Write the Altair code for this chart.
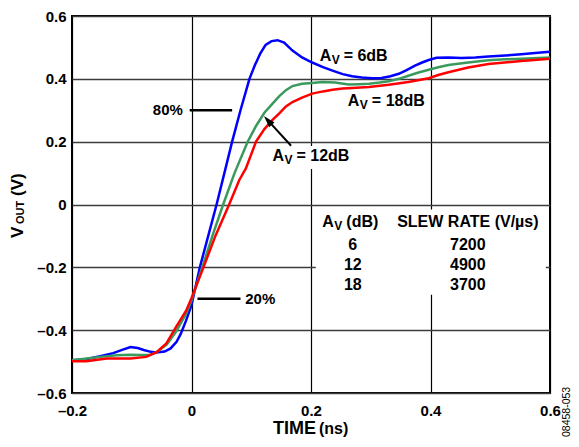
import altair as alt
import pandas as pd

# ---------------- data ----------------
t_6 = [-0.2, -0.175, -0.153, -0.131, -0.115, -0.102, -0.09, -0.08, -0.068, -0.059, -0.045, -0.035,
       -0.025, -0.018, -0.009, 0.0, 0.007, 0.014, 0.028, 0.042, 0.055, 0.068, 0.082, 0.097, 0.106,
       0.115, 0.124, 0.134, 0.144, 0.155, 0.169, 0.185, 0.202, 0.22, 0.236, 0.253, 0.269, 0.285,
       0.302, 0.318, 0.333, 0.347, 0.36, 0.374, 0.386, 0.397, 0.41, 0.43, 0.452, 0.475, 0.497,
       0.525, 0.552, 0.575, 0.6]
v_6 = [-0.496, -0.492, -0.483, -0.473, -0.462, -0.454, -0.457, -0.463, -0.469, -0.471, -0.468, -0.458,
       -0.437, -0.412, -0.369, -0.32, -0.26, -0.2, -0.1, 0.0, 0.1, 0.2, 0.3, 0.4, 0.443,
       0.48, 0.508, 0.52, 0.523, 0.515, 0.49, 0.468, 0.452, 0.437, 0.426, 0.415, 0.408, 0.404,
       0.402, 0.403, 0.408, 0.416, 0.428, 0.442, 0.452, 0.46, 0.467, 0.468, 0.466, 0.468, 0.471,
       0.474, 0.478, 0.482, 0.486]

t_12 = [-0.2, -0.175, -0.153, -0.125, -0.102, -0.085, -0.07, -0.059, -0.042, -0.026, -0.009, 0.0,
        0.018, 0.035, 0.053, 0.072, 0.094, 0.108, 0.122, 0.136, 0.147, 0.158, 0.169, 0.185, 0.202,
        0.219, 0.24, 0.263, 0.28, 0.297, 0.315, 0.33, 0.347, 0.363, 0.38, 0.397, 0.413, 0.43,
        0.463, 0.497, 0.525, 0.552, 0.6]
v_12 = [-0.496, -0.49, -0.485, -0.48, -0.478, -0.479, -0.479, -0.471, -0.447, -0.405, -0.348, -0.305,
        -0.2, -0.1, 0.0, 0.1, 0.2, 0.25, 0.292, 0.322, 0.345, 0.364, 0.377, 0.384, 0.387,
        0.39, 0.388, 0.382, 0.383, 0.384, 0.388, 0.392, 0.4, 0.41, 0.42, 0.429, 0.437, 0.444,
        0.452, 0.459, 0.462, 0.464, 0.468]

t_18 = [-0.2, -0.176, -0.142, -0.102, -0.076, -0.059, -0.042, -0.026, -0.009, 0.0, 0.02, 0.04,
        0.063, 0.08, 0.091, 0.108, 0.122, 0.136, 0.147, 0.158, 0.169, 0.185, 0.202, 0.22, 0.236,
        0.253, 0.269, 0.297, 0.33, 0.363, 0.397, 0.413, 0.43, 0.463, 0.497, 0.552, 0.6]
v_18 = [-0.499, -0.499, -0.49, -0.49, -0.485, -0.471, -0.442, -0.39, -0.338, -0.298, -0.2, -0.1,
        0.0, 0.078, 0.115, 0.2, 0.24, 0.27, 0.29, 0.312, 0.326, 0.34, 0.353, 0.36, 0.365,
        0.369, 0.371, 0.374, 0.381, 0.39, 0.402, 0.412, 0.421, 0.436, 0.447, 0.457, 0.464]

gains = ["6", "12", "18"]
slew_rates = ["7200", "4900", "3700"]
gain_labels = ["= 6dB", "= 12dB", "= 18dB"]
x_ticks = [-0.2, 0, 0.2, 0.4, 0.6]
y_ticks = [-0.6, -0.4, -0.2, 0, 0.2, 0.4, 0.6]

# ---------------- build ----------------
FONT = "Liberation Sans"
W, H = 478, 377
colors = ["#0000FF", "#3A9A5E", "#FF0000"]

curves = pd.concat([
    pd.DataFrame({"t": t, "v": v, "gain": g, "i": list(range(len(t)))})
    for t, v, g in [(t_6, v_6, "6"), (t_12, v_12, "12"), (t_18, v_18, "18")]
])

xs = alt.Scale(domain=[-0.2, 0.6], nice=False, zero=False)
ys = alt.Scale(domain=[-0.6, 0.6], nice=False, zero=False)
lab = "datum.value < 0 ? '\u2013' + format(-datum.value, '.1~f') : format(datum.value, '.1~f')"

x_axis = alt.Axis(values=x_ticks, title=None, grid=True, gridColor="black", gridWidth=1.2,
                  ticks=False, domain=False, labelExpr=lab, labelFont=FONT, labelFontSize=15,
                  labelFontWeight="bold", labelColor="black", labelPadding=10, labelFlush=False)
y_axis = alt.Axis(values=y_ticks, title=None, grid=True, gridColor="#3c3c3c", gridWidth=1.4,
                  ticks=False, domain=False, labelExpr=lab, labelFont=FONT, labelFontSize=15,
                  labelFontWeight="bold", labelColor="black", labelPadding=6)

X = lambda f: alt.X(f, type="quantitative", scale=xs, axis=x_axis)
Y = lambda f: alt.Y(f, type="quantitative", scale=ys, axis=y_axis)

lines = alt.Chart(curves).mark_line(strokeWidth=2.5).encode(
    x=X("t"), y=Y("v"),
    color=alt.Color("gain:N", scale=alt.Scale(domain=gains, range=colors), legend=None),
    order="i:Q",
)

# white boxes behind the table and the 12dB label (hide the grid like the original)
boxes_df = pd.DataFrame({"x1": [0.208, 0.128], "x2": [0.593, 0.275],
                         "y1": [-0.287, 0.113], "y2": [-0.016, 0.186]})
boxes = alt.Chart(boxes_df).mark_rect(color="white").encode(
    x=X("x1"), x2="x2", y=Y("y1"), y2="y2")

# 80% / 20% marker lines
pct_df = pd.DataFrame({"x1": [-0.003, 0.01], "x2": [0.068, 0.082], "y": [0.3, -0.3]})
pct_lines = alt.Chart(pct_df).mark_rule(color="black", strokeWidth=2.5).encode(
    x=X("x1"), x2="x2", y=Y("y"))
pct_txt = pd.DataFrame({"x": [-0.0145, 0.09], "y": [0.3, -0.3], "txt": ["80%", "20%"]})
pct80 = alt.Chart(pct_txt.iloc[[0]]).mark_text(font=FONT, fontSize=15, fontWeight="bold",
                                               align="right", baseline="middle", color="black").encode(
    x=X("x"), y=Y("y"), text="txt")
pct20 = alt.Chart(pct_txt.iloc[[1]]).mark_text(font=FONT, fontSize=15, fontWeight="bold",
                                               align="left", baseline="middle", color="black").encode(
    x=X("x"), y=Y("y"), text="txt")

# arrow to 12dB curve
arrow_df = pd.DataFrame({"x1": [0.1667], "y1": [0.187], "x2": [0.1278], "y2": [0.2678]})
arrow_line = alt.Chart(arrow_df).mark_rule(color="black", strokeWidth=2).encode(
    x=X("x1"), y=Y("y1"), x2="x2", y2="y2")
arrow_head = alt.Chart(arrow_df).mark_point(shape="M0,-1L0.6,1L-0.6,1Z", size=140, filled=True,
                                            color="black", opacity=1, angle=318).encode(
    x=X("x2"), y=Y("y2"))

# A_V labels (A, subscript V, rest)
av_df = pd.DataFrame({"x": [0.2145, 0.1355, 0.2617, 0.219],
                      "y": [0.457, 0.140, 0.315, -0.0726],
                      "rest": gain_labels + ["(dB)"]})
txt_style = dict(font=FONT, fontWeight="bold", color="black", align="left", baseline="alphabetic")
av_A = alt.Chart(av_df).mark_text(fontSize=16, text="A", **txt_style).encode(x=X("x"), y=Y("y"))
av_V = alt.Chart(av_df).mark_text(fontSize=12, text="V", dx=12, dy=3, **txt_style).encode(
    x=X("x"), y=Y("y"))
av_rest = alt.Chart(av_df).mark_text(fontSize=16, dx=24, **txt_style).encode(
    x=X("x"), y=Y("y"), text="rest")

# table
tbl_df = pd.DataFrame({"gain": gains, "slew": slew_rates, "y": [-0.128, -0.192, -0.257],
                       "xg": [0.27, 0.27, 0.27], "xs": [0.4625, 0.4625, 0.4625]})
ctr = dict(font=FONT, fontWeight="bold", color="black", align="center", baseline="middle", fontSize=16)
tbl_gain = alt.Chart(tbl_df).mark_text(**ctr).encode(x=X("xg"), y=Y("y"), text="gain")
tbl_slew = alt.Chart(tbl_df).mark_text(**ctr).encode(x=X("xs"), y=Y("y"), text="slew")
hdr_df = pd.DataFrame({"x": [0.4625], "y": [-0.0726], "txt": ["SLEW RATE (V/\u00b5s)"]})
tbl_hdr = alt.Chart(hdr_df).mark_text(font=FONT, fontWeight="bold", color="black", align="center",
                                      baseline="alphabetic", fontSize=16).encode(
    x=X("x"), y=Y("y"), text="txt")

# axis titles drawn as text (for mixed sizes / subscripts)
one = pd.DataFrame({"a": [0]})
def ptext(txt, x, y, size, weight="bold", angle=0):
    return alt.Chart(one).mark_text(text=txt, font=FONT, fontSize=size, fontWeight=weight,
                                    color="black", align="left", baseline="alphabetic",
                                    angle=angle).encode(x=alt.value(x), y=alt.value(y))

t_time = ptext("TIME", 201, 418, 18)
t_ns = ptext("(ns)", 247, 418, 16)
t_V = ptext("V", -49, 222, 17, angle=270)
t_OUT = ptext("OUT", -48, 208, 11, angle=270)
t_VV = ptext("(V)", -49, 180, 17, angle=270)
t_id = ptext("08458-053", 498, 421, 10.5, weight="normal", angle=270)

chart = alt.layer(
    boxes, lines, pct_lines, pct80, pct20, arrow_line, arrow_head,
    av_A, av_V, av_rest, tbl_hdr, tbl_gain, tbl_slew,
    t_time, t_ns, t_V, t_OUT, t_VV, t_id,
).properties(
    width=W, height=H,
    autosize=alt.AutoSizeParams(type="none"),
    padding={"left": 64, "top": 8, "right": 21, "bottom": 46},
    background="white",
).configure_view(stroke="black", strokeWidth=2)

chart.save("out.html", embed_options={"renderer": "svg", "actions": False})
